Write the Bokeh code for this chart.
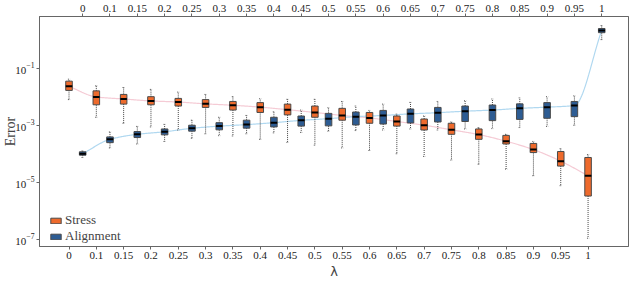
import numpy as np
from bokeh.plotting import figure
from bokeh.models import FixedTicker, LinearAxis, Range1d, Legend, LegendItem, ColumnDataSource
from bokeh.embed import file_html
from bokeh.resources import INLINE

lambda_labels = ["0", "0.1", "0.15", "0.2", "0.25", "0.3", "0.35", "0.4", "0.45", "0.5",
                 "0.55", "0.6", "0.65", "0.7", "0.75", "0.8", "0.85", "0.9", "0.95", "1"]

stress_med = [2.3e-2, 9.8e-3, 8.3e-3, 7.1e-3, 6.5e-3, 5.6e-3, 5.0e-3, 4.3e-3, 3.5e-3, 2.8e-3,
              2.2e-3, 1.8e-3, 1.35e-3, 1.0e-3, 6.9e-4, 4.7e-4, 2.75e-4, 1.4e-4, 5.5e-5, 1.7e-5]
stress_q3 = [3.5e-2, 1.6e-2, 1.2e-2, 1.0e-2, 8.7e-3, 7.9e-3, 6.8e-3, 6.2e-3, 5.5e-3, 4.7e-3,
             3.9e-3, 2.8e-3, 2.1e-3, 1.65e-3, 1.17e-3, 7.4e-4, 4.4e-4, 2.3e-4, 1.2e-4, 7.4e-5]
stress_q1 = [1.66e-2, 5.2e-3, 5.5e-3, 5.2e-3, 4.7e-3, 4.2e-3, 3.4e-3, 2.8e-3, 2.3e-3, 1.9e-3,
             1.5e-3, 1.17e-3, 9.3e-4, 6.8e-4, 4.8e-4, 3.2e-4, 2.2e-4, 1.1e-4, 3.7e-5, 3.3e-6]
stress_hi = [4.1e-2, 2.4e-2, 2.1e-2, 1.8e-2, 1.45e-2, 1.2e-2, 1.0e-2, 8.5e-3, 8.1e-3, 8.1e-3,
             6.8e-3, 3.3e-3, 2.45e-3, 2.1e-3, 1.3e-3, 8.3e-4, 4.8e-4, 2.7e-4, 1.5e-4, 9.3e-5]
stress_lo = [7.9e-3, 1.9e-3, 1.17e-3, 8.7e-4, 6.8e-4, 5.0e-4, 4.2e-4, 3.2e-4, 2.5e-4, 2.0e-4,
             1.6e-4, 1.3e-4, 1.0e-4, 8.1e-5, 6.0e-5, 4.3e-5, 2.9e-5, 1.7e-5, 7.6e-6, 1.1e-7]

align_med = [1.0e-4, 3.2e-4, 4.8e-4, 5.9e-4, 7.8e-4, 9.3e-4, 1.05e-3, 1.23e-3, 1.48e-3, 1.7e-3,
             2.0e-3, 2.2e-3, 2.5e-3, 2.75e-3, 3.1e-3, 3.4e-3, 3.9e-3, 4.3e-3, 4.9e-3, 2.1]
align_q3 = [1.17e-4, 3.9e-4, 6.0e-4, 7.4e-4, 1.0e-3, 1.23e-3, 1.5e-3, 1.9e-3, 2.1e-3, 2.6e-3,
            2.9e-3, 3.3e-3, 3.7e-3, 4.2e-3, 4.7e-3, 5.1e-3, 5.6e-3, 6.2e-3, 6.8e-3, 2.45]
align_q1 = [8.9e-5, 2.45e-4, 3.7e-4, 4.6e-4, 6.2e-4, 6.9e-4, 7.9e-4, 8.7e-4, 9.3e-4, 9.5e-4,
            1.02e-3, 1.1e-3, 1.2e-3, 1.3e-3, 1.35e-3, 1.45e-3, 1.6e-3, 1.75e-3, 2.0e-3, 1.75]
align_hi = [1.26e-4, 5.8e-4, 9.1e-4, 1.07e-3, 1.5e-3, 1.9e-3, 2.2e-3, 2.95e-3, 3.4e-3, 4.1e-3,
            4.7e-3, 5.5e-3, 6.3e-3, 6.8e-3, 7.2e-3, 8.3e-3, 9.1e-3, 1.0e-2, 1.07e-2, 3.1]
align_lo = [7.4e-5, 1.6e-4, 2.2e-4, 2.7e-4, 3.5e-4, 4.3e-4, 5.0e-4, 5.4e-4, 5.6e-4, 6.2e-4,
            6.5e-4, 6.8e-4, 7.4e-4, 6.8e-4, 7.4e-4, 7.6e-4, 8.3e-4, 9.1e-4, 1.0e-3, 1.0]

STRESS_FILL = "#ee6a2c"
ALIGN_FILL = "#2d5c93"
EDGE = "#4a4a4a"
SERIF = "Liberation Serif"


def pchip(x, y, xn):
    x = np.asarray(x, float)
    y = np.asarray(y, float)
    h = np.diff(x)
    d = np.diff(y) / h
    m = np.zeros_like(y)
    m[0], m[-1] = d[0], d[-1]
    for k in range(1, len(y) - 1):
        if d[k - 1] * d[k] <= 0:
            m[k] = 0.0
        else:
            w1 = 2 * h[k] + h[k - 1]
            w2 = h[k] + 2 * h[k - 1]
            m[k] = (w1 + w2) / (w1 / d[k - 1] + w2 / d[k])
    idx = np.clip(np.searchsorted(x, xn) - 1, 0, len(x) - 2)
    t = (xn - x[idx]) / h[idx]
    h00 = 2 * t**3 - 3 * t**2 + 1
    h10 = t**3 - 2 * t**2 + t
    h01 = -2 * t**3 + 3 * t**2
    h11 = t**3 - t**2
    return h00 * y[idx] + h10 * h[idx] * m[idx] + h01 * y[idx + 1] + h11 * h[idx] * m[idx + 1]


n = len(lambda_labels)
xs = np.arange(n, dtype=float)
xa = xs + 0.5
bw = 0.24
cw = 0.08

p = figure(width=632, height=281, y_axis_type="log",
           x_range=Range1d(-1.08, 20.48), y_range=Range1d(10**-7.25, 10**0.81),
           output_backend="svg", toolbar_location=None,
           min_border_left=30, min_border_right=4, min_border_top=16, min_border_bottom=28)
p.grid.visible = False
p.outline_line_color = "#666666"
p.background_fill_color = "white"

# smooth trend lines (log space through medians)
for xpos, med, col in ((xs, stress_med, "#f5cbd5"), (xa, align_med, "#b0d8f0")):
    xf = np.linspace(xpos[0], xpos[-1], 600)
    yf = 10 ** pchip(xpos, np.log10(med), xf)
    p.line(xf, yf, line_color=col, line_width=1.2)

renderers = []
for xpos, q1, q3, med, lo, hi, fill in (
        (xs, stress_q1, stress_q3, stress_med, stress_lo, stress_hi, STRESS_FILL),
        (xa, align_q1, align_q3, align_med, align_lo, align_hi, ALIGN_FILL)):
    src = ColumnDataSource(dict(x=xpos, left=xpos - bw / 2, right=xpos + bw / 2,
                                cl=xpos - cw / 2, cr=xpos + cw / 2,
                                q1=q1, q3=q3, med=med, lo=lo, hi=hi))
    p.segment("x", "q3", "x", "hi", source=src, line_color="#444444", line_dash="1 1", line_width=1)
    p.segment("x", "q1", "x", "lo", source=src, line_color="#444444", line_dash="1 1", line_width=1)
    p.segment("cl", "hi", "cr", "hi", source=src, line_color="#555555", line_dash="1 1", line_width=1)
    p.segment("cl", "lo", "cr", "lo", source=src, line_color="#555555", line_dash="1 1", line_width=1)
    r = p.quad(left="left", right="right", bottom="q1", top="q3", source=src,
               fill_color=fill, line_color=EDGE, line_width=1)
    p.segment("left", "med", "right", "med", source=src, line_color="black", line_width=2)
    renderers.append(r)

# bottom axis (stress positions)
xb = p.xaxis[0]
xb.ticker = FixedTicker(ticks=list(xs))
xb.major_label_overrides = {float(v): lab for v, lab in zip(xs, lambda_labels)}
xb.axis_label = "λ"
xb.axis_label_text_font = "DejaVu Sans"
xb.axis_label_text_font_size = "13px"
xb.axis_label_text_font_style = "normal"
xb.axis_label_standoff = 2

# top axis (alignment positions)
xt = LinearAxis(ticker=FixedTicker(ticks=list(xa)),
                major_label_overrides={float(v): lab for v, lab in zip(xa, lambda_labels)})
p.add_layout(xt, "above")

yl = p.yaxis[0]
yl.ticker = FixedTicker(ticks=[1e-7, 1e-5, 1e-3, 1e-1])
yl.axis_label = "Error"
yl.axis_label_text_font = SERIF
yl.axis_label_text_font_size = "14px"
yl.axis_label_text_font_style = "normal"
yl.axis_label_standoff = -6

for ax in (xb, xt, yl):
    ax.major_label_text_font = SERIF
    ax.major_label_text_font_size = "11px"
    ax.major_label_text_color = "#222222"
    ax.axis_line_color = "#666666"
    ax.major_tick_line_color = "#666666"
    ax.minor_tick_line_color = None
    ax.major_tick_in = 0
    ax.major_tick_out = 3
    ax.major_label_standoff = 2

legend = Legend(items=[LegendItem(label="Stress", renderers=[renderers[0]]),
                       LegendItem(label="Alignment", renderers=[renderers[1]])],
                location=(10, 2), orientation="vertical",
                glyph_width=13, glyph_height=7, label_height=11, spacing=-3,
                padding=0, margin=0, label_standoff=3,
                label_text_font=SERIF, label_text_font_size="13px",
                label_text_line_height=0.9,
                border_line_color=None, background_fill_alpha=0)
p.add_layout(legend)

open("out.html", "w").write(file_html(p, INLINE))
